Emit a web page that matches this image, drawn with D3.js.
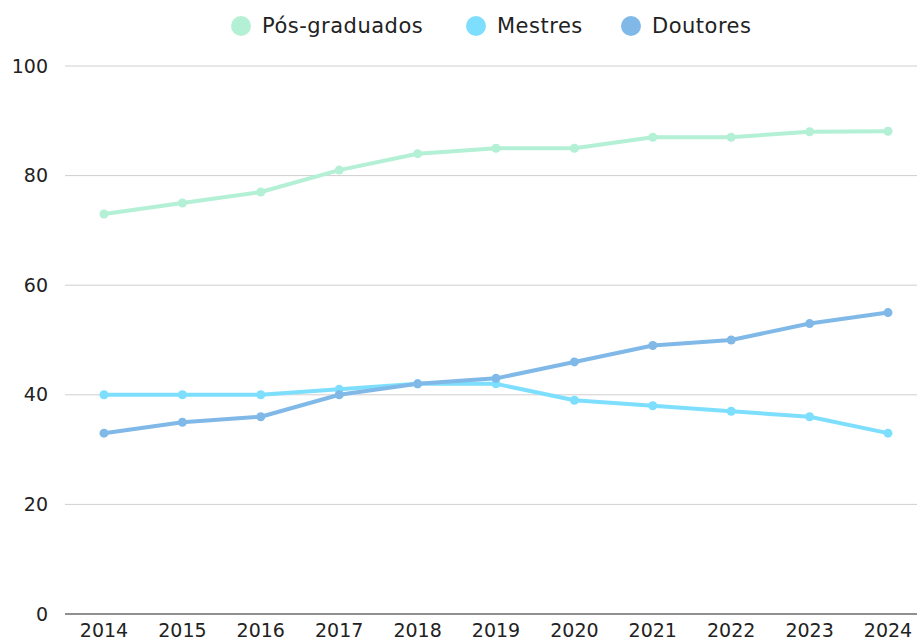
<!DOCTYPE html>
<html><head><meta charset="utf-8">
<script src="https://cdn.jsdelivr.net/npm/d3@7"></script>
<style>body{margin:0;background:#fff;} svg{display:block;font-family:"DejaVu Sans",sans-serif;}</style>
</head><body>
<svg id="c" width="917" height="642"></svg>
<script>
const years = ["2014","2015","2016","2017","2018","2019","2020","2021","2022","2023","2024"];
const posGraduados = [73,75,77,81,84,85,85,87,87,88,88.1];
const mestres = [40,40,40,41,42,42,39,38,37,36,33];
const doutores = [33,35,36,40,42,43,46,49,50,53,55];
const yTicks = [0,20,40,60,80,100];
const seriesNames = ["Pós-graduados","Mestres","Doutores"];
const colors = ["#b3f0d5","#7ddffd","#80b9e8"];

(function(){
const svg = d3.select("#c");
const mLeft = 65, mRight = 917, mTop = 66, mBottom = 614;
const x = d3.scalePoint().domain(years).range([104, 888]);
const y = d3.scaleLinear().domain([0,100]).range([mBottom, mTop]);

svg.append("g").selectAll("line").data(yTicks.filter(d=>d>0)).join("line")
  .attr("x1", mLeft).attr("x2", mRight)
  .attr("y1", d=>y(d)).attr("y2", d=>y(d))
  .attr("stroke","#cfcfcf").attr("stroke-width",1);
svg.append("line").attr("x1",mLeft).attr("x2",mRight).attr("y1",y(0)).attr("y2",y(0))
  .attr("stroke","#6b6b6b").attr("stroke-width",1.3);

svg.append("g").selectAll("text").data(yTicks).join("text")
  .attr("x", 48).attr("y", d=>y(d)).attr("dy","0.35em")
  .attr("text-anchor","end").attr("font-size",19).attr("fill","#222")
  .text(d=>d);
svg.append("g").selectAll("text").data(years).join("text")
  .attr("x", d=>x(d)).attr("y", 637)
  .attr("text-anchor","middle").attr("font-size",19).attr("fill","#222")
  .text(d=>d);

const data = [posGraduados, mestres, doutores];
const line = d3.line().x((d,i)=>x(years[i])).y(d=>y(d));
data.forEach((s,k)=>{
  svg.append("path").datum(s).attr("d", line).attr("fill","none")
    .attr("stroke", colors[k]).attr("stroke-width",4).attr("stroke-linejoin","round");
});
data.forEach((s,k)=>{
  svg.append("g").selectAll("circle").data(s).join("circle")
    .attr("cx",(d,i)=>x(years[i])).attr("cy",d=>y(d)).attr("r",4.5)
    .attr("fill",colors[k]);
});

const legX = [241, 476, 631];
const lg = svg.append("g");
seriesNames.forEach((n,k)=>{
  lg.append("circle").attr("cx",legX[k]).attr("cy",26).attr("r",10).attr("fill",colors[k]);
  lg.append("text").attr("x",legX[k]+21).attr("y",26).attr("dy","0.35em")
    .attr("font-size",21).attr("letter-spacing","0.5px").attr("fill","#222").text(n);
});
})();
</script>
</body></html>
